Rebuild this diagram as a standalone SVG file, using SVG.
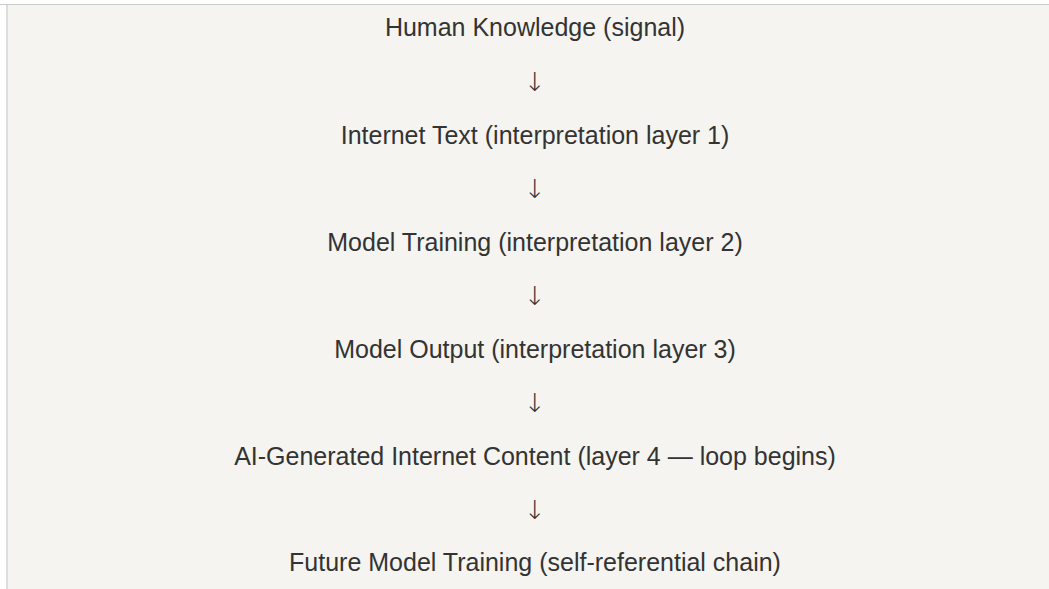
<svg xmlns="http://www.w3.org/2000/svg" width="1049" height="589" viewBox="0 0 1049 589">
  <style>
    .t { font-family: "Liberation Sans", Arial, sans-serif; font-size: 25px; fill: #333333; text-anchor: middle; }
    .a { font-family: "DejaVu Sans", sans-serif; font-size: 26px; font-weight: 200; fill: #333333; text-anchor: middle; }
  </style>
  <rect x="0" y="0" width="1049" height="589" fill="#ffffff"/>
  <rect x="7" y="4" width="1042" height="585" fill="#f5f4f0"/>
  <line x1="0" y1="4.5" x2="1049" y2="4.5" stroke="#cccccc" stroke-width="1"/>
  <line x1="7" y1="5" x2="7" y2="589" stroke="#dddddd" stroke-width="2"/>
  <g id="connectors">
    <text class="a" x="535" y="91">↓</text>
    <text class="a" x="535" y="198">↓</text>
    <text class="a" x="535" y="305">↓</text>
    <text class="a" x="535" y="412">↓</text>
    <text class="a" x="535" y="519">↓</text>
  </g>
  <g id="node-human-knowledge"><text class="t" x="535" y="36">Human Knowledge (signal)</text></g>
  <g id="node-internet-text"><text class="t" x="535" y="144">Internet Text (interpretation layer 1)</text></g>
  <g id="node-model-training"><text class="t" x="535" y="251">Model Training (interpretation layer 2)</text></g>
  <g id="node-model-output"><text class="t" x="535" y="358">Model Output (interpretation layer 3)</text></g>
  <g id="node-ai-content"><text class="t" x="535" y="465">AI-Generated Internet Content (layer 4 — loop begins)</text></g>
  <g id="node-future-training"><text class="t" x="535" y="571">Future Model Training (self-referential chain)</text></g>
</svg>
